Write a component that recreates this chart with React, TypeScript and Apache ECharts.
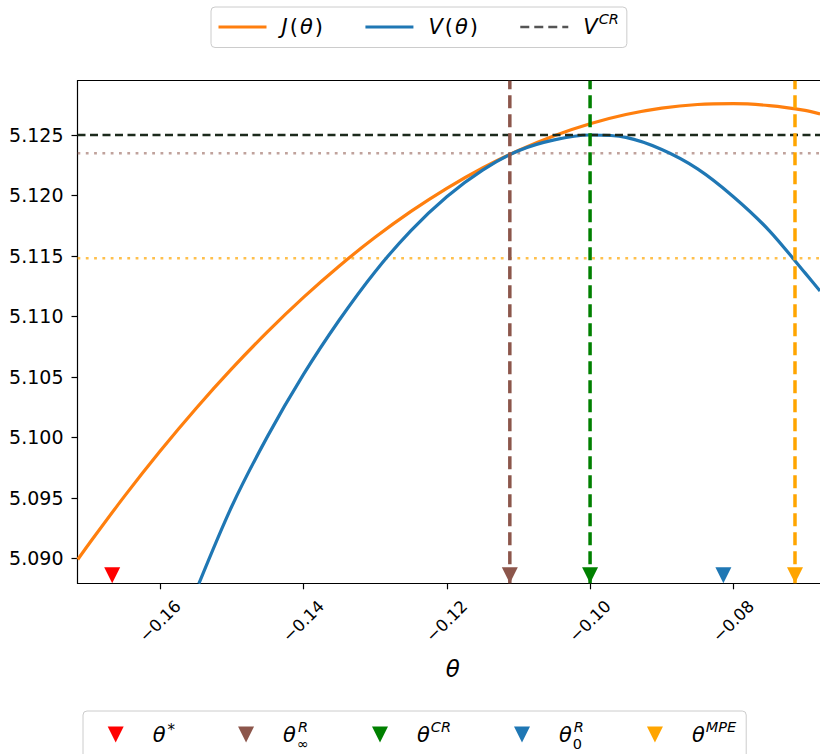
import React, { useEffect, useRef } from 'react';
import * as echarts from 'echarts';

// Axis ranges
const X_MIN = -0.17154;
const X_MAX = -0.06791;
const Y_MIN = 5.08793;
const Y_MAX = 5.12949;

// Tick values
const X_TICKS = [-0.16, -0.14, -0.12, -0.1, -0.08];
const Y_TICKS = [5.09, 5.095, 5.1, 5.105, 5.11, 5.115, 5.12, 5.125];

// J(θ) curve (orange)
const J_THETA = [-0.1715, -0.17, -0.165, -0.16, -0.155, -0.15, -0.145, -0.14, -0.135, -0.13, -0.125, -0.12, -0.115, -0.11, -0.105, -0.1, -0.095, -0.09, -0.085, -0.08, -0.075, -0.07, -0.0679];
const J_VALUES = [5.0899, 5.09114, 5.09512, 5.09887, 5.10239, 5.10568, 5.10874, 5.11157, 5.11417, 5.11654, 5.11868, 5.12059, 5.12227, 5.12372, 5.12494, 5.12593, 5.12669, 5.12722, 5.12752, 5.12759, 5.12743, 5.12704, 5.12674];

// V(θ) curve (blue)
const V_THETA = [-0.1546, -0.15, -0.145, -0.14, -0.135, -0.13, -0.125, -0.12, -0.115, -0.11, -0.105, -0.1, -0.095, -0.09, -0.085, -0.08, -0.075, -0.07, -0.0679];
const V_VALUES = [5.0879, 5.0943, 5.1001, 5.1052, 5.1097, 5.1137, 5.1171, 5.1199, 5.1221, 5.1237, 5.1246, 5.125, 5.1248, 5.1238, 5.1222, 5.1199, 5.1171, 5.1136, 5.1121];

// Horizontal reference levels
const V_CR = 5.125;
const V_AT_THETA_INF_R = 5.1235;
const V_AT_THETA_MPE = 5.1148;

// Markers
const MARKER_NAMES = ['θ^*', 'θ_∞^R', 'θ^CR', 'θ_0^R', 'θ^MPE'];
const MARKER_THETA = [-0.1667, -0.1112, -0.1, -0.0814, -0.0714];
const MARKER_COLORS = ['#ff0000', '#8c564b', '#008000', '#1f77b4', '#ffa500'];
const MARKER_Y = 5.0886;
// markers with a vertical dashed line
const VLINE_INDEX = [1, 2, 4];

const FONT = 'DejaVu Sans';
const TRI = 'path://M0,0L10,0L5,10Z';

const LEGEND_LABELS: Record<string, string> = {
  'J(θ)': '{it|J}{rm|(}{it|θ}{rm|)}',
  'V(θ)': '{it|V}{rm|(}{it|θ}{rm|)}',
  'V^CR': '{it|V}{sup|CR}',
  'θ^*': '{it|θ}{star|*}',
  'θ_∞^R': '{it|θ}{sub|∞}{sup|R}',
  'θ^CR': '{it|θ}{sup|CR}',
  'θ_0^R': '{it|θ}{sub|0}{sup|R}',
  'θ^MPE': '{it|θ}{sup|MPE}',
};

const RICH = {
  it: { fontFamily: FONT, fontStyle: 'italic', fontSize: 21, color: '#000' },
  rm: { fontFamily: FONT, fontSize: 21, color: '#000', padding: [0, 2, 0, 2] },
  sup: { fontFamily: FONT, fontStyle: 'italic', fontSize: 14.5, color: '#000', padding: [0, 0, 16, 1] },
  star: { fontFamily: FONT, fontSize: 15, color: '#000', padding: [0, 0, 10, 2] },
  sub: { fontFamily: FONT, fontSize: 14.5, color: '#000', padding: [18, 0, 0, 1], width: 0 },
};

const fmtMinus = (v: number, d: number) => (v < 0 ? '\u2212' : '') + Math.abs(v).toFixed(d);

export default function App() {
  const ref = useRef<HTMLDivElement>(null);
  useEffect(() => {
    const chart = echarts.init(ref.current!, null, { renderer: 'svg' });
    const series: any[] = [
      {
        name: 'J(θ)', type: 'line', data: J_THETA.map((t, i) => [t, J_VALUES[i]]),
        symbol: 'none', smooth: 0.3, z: 3,
        lineStyle: { color: '#ff7f0e', width: 3.2 }, itemStyle: { color: '#ff7f0e' },
      },
      {
        name: 'V(θ)', type: 'line', data: V_THETA.map((t, i) => [t, V_VALUES[i]]),
        symbol: 'none', smooth: 0.3, z: 3,
        lineStyle: { color: '#1f77b4', width: 3.2 }, itemStyle: { color: '#1f77b4' },
      },
      {
        name: 'V^CR', type: 'line', data: [[X_MIN, V_CR], [X_MAX, V_CR]],
        symbol: 'none', z: 4,
        lineStyle: { color: '#1c2a1c', width: 2.5, type: [8, 4.5] }, itemStyle: { color: '#555' },
      },
      {
        name: 'h-inf', type: 'line', data: [[X_MIN, V_AT_THETA_INF_R], [X_MAX, V_AT_THETA_INF_R]],
        symbol: 'none', z: 2,
        lineStyle: { color: '#8c564b', opacity: 0.55, width: 2.5, type: [2.8, 5.5] },
      },
      {
        name: 'h-mpe', type: 'line', data: [[X_MIN, V_AT_THETA_MPE], [X_MAX, V_AT_THETA_MPE]],
        symbol: 'none', z: 2,
        lineStyle: { color: '#ffa500', opacity: 0.7, width: 2.5, type: [2.8, 5.5] },
      },
    ];
    VLINE_INDEX.forEach((i) => {
      series.push({
        name: 'v-' + MARKER_NAMES[i], type: 'line',
        data: [[MARKER_THETA[i], Y_MIN], [MARKER_THETA[i], Y_MAX]],
        symbol: 'none', z: 5,
        lineStyle: { color: MARKER_COLORS[i], width: 3.5, type: [13, 6] },
      });
    });
    MARKER_NAMES.forEach((n, i) => {
      series.push({
        name: n, type: 'scatter', data: [[MARKER_THETA[i], MARKER_Y]],
        symbol: TRI, symbolSize: 16, clip: false, z: 10,
        itemStyle: { color: MARKER_COLORS[i], opacity: 1 },
      });
    });

    const hiddenSymbol = { color: 'rgba(0,0,0,0)', borderWidth: 0, opacity: 0 };

    const option: any = {
      animation: false,
      backgroundColor: '#fff',
      textStyle: { fontFamily: FONT },
      grid: { left: 77.5, right: 0, top: 80.7, bottom: 170.7, outerBoundsMode: 'none', containLabel: false },
      xAxis: [
        {
          type: 'value', min: X_MIN, max: X_MAX, position: 'bottom',
          name: 'θ', nameLocation: 'middle', nameGap: 74, nameMoveOverlap: false,
          nameTextStyle: { fontFamily: FONT, fontStyle: 'italic', fontSize: 23, color: '#000', padding: [0, 0, 0, 8] },
          axisLine: { show: true, onZero: false, lineStyle: { color: '#000', width: 1.2 } },
          axisTick: { show: true, length: 6, customValues: X_TICKS, lineStyle: { color: '#000', width: 1.2 } },
          axisLabel: {
            customValues: X_TICKS, rotate: 45, align: 'center', verticalAlign: 'middle', margin: 38,
            fontFamily: FONT, fontSize: 16.5, color: '#000',
            formatter: (v: number) => fmtMinus(v, 2),
          },
          splitLine: { show: false },
        },
        {
          type: 'value', min: X_MIN, max: X_MAX, position: 'top',
          axisLine: { show: true, onZero: false, lineStyle: { color: '#000', width: 1.2 } },
          axisTick: { show: false }, axisLabel: { show: false }, splitLine: { show: false },
        },
      ],
      yAxis: {
        type: 'value', min: Y_MIN, max: Y_MAX,
        axisLine: { show: true, onZero: false, lineStyle: { color: '#000', width: 1.2 } },
        axisTick: { show: true, length: 6, customValues: Y_TICKS, lineStyle: { color: '#000', width: 1.2 } },
        axisLabel: {
          customValues: Y_TICKS, margin: 14, fontFamily: FONT, fontSize: 19, color: '#000',
          formatter: (v: number) => v.toFixed(3),
        },
        splitLine: { show: false },
      },
      legend: [
        {
          data: [
            { name: 'J(θ)', itemStyle: hiddenSymbol, lineStyle: { width: 3 } },
            { name: 'V(θ)', itemStyle: hiddenSymbol, lineStyle: { width: 3 } },
            { name: 'V^CR', itemStyle: hiddenSymbol, lineStyle: { color: '#555', width: 2.5, type: [9, 5] } },
          ],
          left: 211, top: 7, orient: 'horizontal',
          itemWidth: 48, itemHeight: 14, itemGap: 41,
          padding: [4.5, 8, 10, 6],
          borderColor: '#cccccc', borderWidth: 1, borderRadius: 4, backgroundColor: '#fff',
          selectedMode: false,
          formatter: (n: string) => LEGEND_LABELS[n] || n,
          textStyle: { rich: RICH, padding: [0, 0, 0, 10] },
        },
        {
          data: MARKER_NAMES.map((n) => ({ name: n, icon: TRI })),
          left: 83, top: 711, orient: 'horizontal',
          itemWidth: 16, itemHeight: 16, itemGap: 63,
          padding: [8, 10, 30, 24.7],
          borderColor: '#cccccc', borderWidth: 1, borderRadius: 4, backgroundColor: '#fff',
          selectedMode: false,
          formatter: (n: string) => LEGEND_LABELS[n] || n,
          textStyle: { rich: RICH, padding: [0, 0, 0, 24] },
        },
      ],
      series,
    };
    chart.setOption(option);
    return () => chart.dispose();
  }, []);
  return (
    <div
      ref={ref}
      style={{ position: 'fixed', left: 0, top: 0, width: 820, height: 754, background: '#fff' }}
    />
  );
}
